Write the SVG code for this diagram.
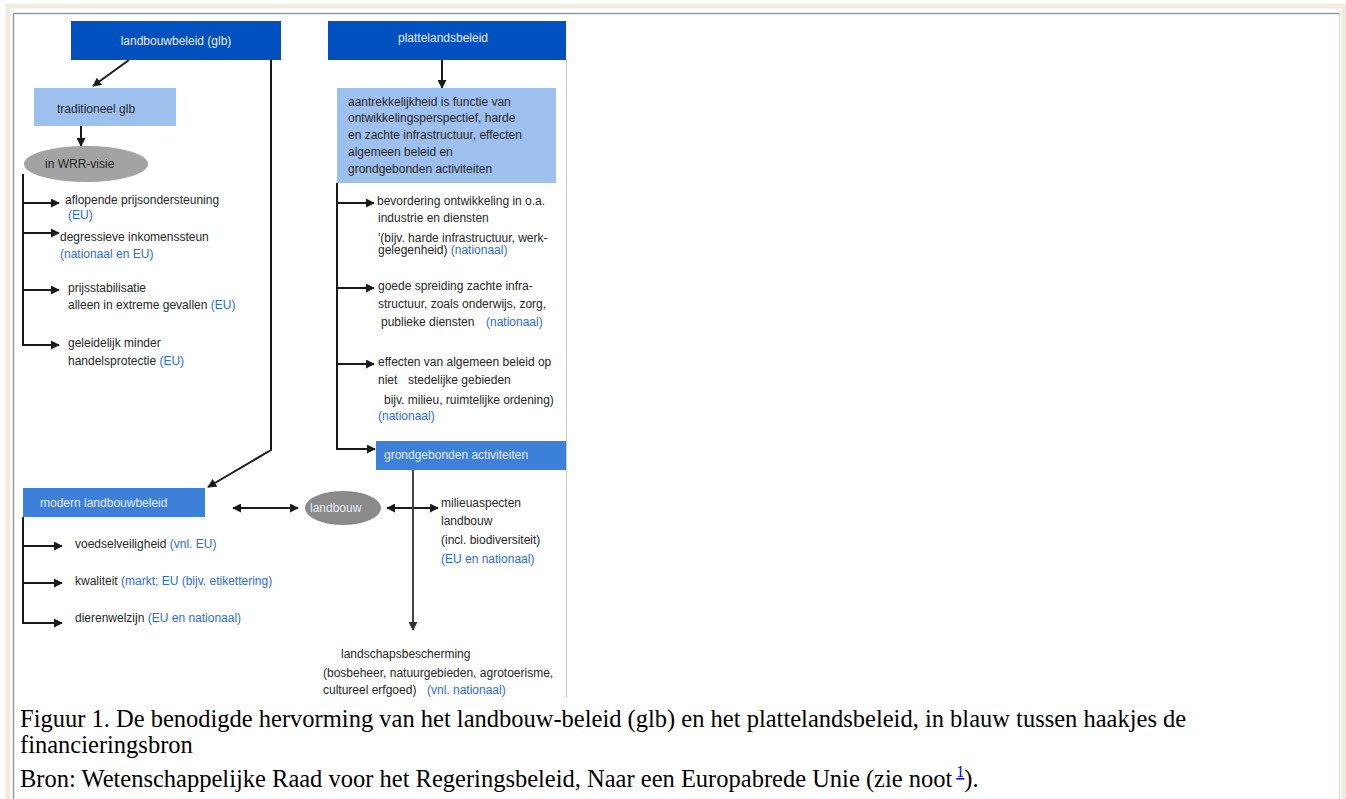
<svg xmlns="http://www.w3.org/2000/svg" width="1346" height="799" viewBox="0 0 1346 799">
<defs>
<marker id="ah" viewBox="0 0 10 10" refX="9" refY="5" markerWidth="4.5" markerHeight="4.5" orient="auto-start-reverse" markerUnits="strokeWidth">
<path d="M0,0 L10,5 L0,10 z" fill="#1a1a1a"/>
</marker>
<marker id="ahg" viewBox="0 0 10 10" refX="9" refY="5" markerWidth="4.5" markerHeight="4.5" orient="auto-start-reverse" markerUnits="strokeWidth">
<path d="M0,0 L10,5 L0,10 z" fill="#333"/>
</marker>
<style>
.t{font-family:"Liberation Sans",Arial,sans-serif;font-size:12px;fill:#262626}
.w{font-family:"Liberation Sans",Arial,sans-serif;font-size:12px;fill:#e4ecf8}
.b{fill:#2f6bd6}
.cap{font-family:"Liberation Serif","Times New Roman",serif;font-size:24.5px;fill:#000}
.ln{fill:none;stroke:#1a1a1a;stroke-width:2}
.dark{fill:#0050c0}
.light{fill:#9ec0ee}
.mid{fill:#3c80da}
</style>
</defs>
<rect width="1346" height="799" fill="#ffffff"/>
<!-- page frame -->
<rect x="8" y="6" width="1336" height="800" fill="none" stroke="#efebdd" stroke-width="5"/>
<line x1="13" y1="13.5" x2="1339" y2="13.5" stroke="#9a9a9a" stroke-width="1.5"/>
<line x1="13.5" y1="13" x2="13.5" y2="799" stroke="#9a9a9a" stroke-width="1.5"/>
<line x1="1339.5" y1="13" x2="1339.5" y2="799" stroke="#d8d8d8" stroke-width="1"/>
<!-- right edge of diagram image -->
<line x1="566.5" y1="60" x2="566.5" y2="697" stroke="#c8c8c8" stroke-width="1"/>

<g id="connectors">
<path class="ln" d="M129,60 L93,86" marker-end="url(#ah)"/>
<path class="ln" d="M271,60 L271,450 L208,487" marker-end="url(#ah)"/>
<path class="ln" d="M81,126 L81,146" marker-end="url(#ah)"/>
<path class="ln" d="M442,60 L442,88" marker-end="url(#ah)"/>
<path class="ln" d="M23,174 L23,345"/>
<path class="ln" d="M23,203 L59,203" marker-end="url(#ah)"/>
<path class="ln" d="M23,233 L59,233" marker-end="url(#ah)"/>
<path class="ln" d="M23,290 L59,290" marker-end="url(#ah)"/>
<path class="ln" d="M22,345 L59,345" marker-end="url(#ah)"/>
<path class="ln" d="M337,183 L337,449"/>
<path class="ln" d="M337,203 L374,203" marker-end="url(#ah)"/>
<path class="ln" d="M337,288 L374,288" marker-end="url(#ah)"/>
<path class="ln" d="M337,364 L374,364" marker-end="url(#ah)"/>
<path class="ln" d="M336,449 L375,449" marker-end="url(#ah)"/>
<path class="ln" d="M23,517 L23,623"/>
<path class="ln" d="M23,546 L62,546" marker-end="url(#ah)"/>
<path class="ln" d="M23,583 L62,583" marker-end="url(#ah)"/>
<path class="ln" d="M22,623 L62,623" marker-end="url(#ah)"/>
<path class="ln" d="M233,508 L298,508" marker-start="url(#ah)" marker-end="url(#ah)"/>
<path class="ln" d="M387,508 L438,508" marker-start="url(#ah)" marker-end="url(#ah)"/>
<path d="M413,470 L413,630" fill="none" stroke="#444" stroke-width="2" marker-end="url(#ahg)"/>
</g>

<g id="n-landbouwbeleid">
<rect class="dark" x="71" y="21" width="210" height="39"/>
<text class="w" x="176" y="45" text-anchor="middle">landbouwbeleid (glb)</text>
</g>
<g id="n-plattelandsbeleid">
<rect class="dark" x="328" y="21" width="238" height="39"/>
<text class="w" x="443" y="42" text-anchor="middle">plattelandsbeleid</text>
</g>
<g id="n-traditioneel">
<rect class="light" x="34" y="88" width="142" height="38"/>
<text class="t" x="57" y="113">traditioneel glb</text>
</g>
<g id="n-wrr">
<ellipse cx="86" cy="164" rx="62" ry="18" fill="#a3a3a3"/>
<text class="t" x="45" y="168">in WRR-visie</text>
</g>
<g id="n-wrr-items">
<text class="t" x="65" y="204">aflopende prijsondersteuning</text>
<text class="t b" x="68" y="219">(EU)</text>
<text class="t" x="60" y="241">degressieve inkomenssteun</text>
<text class="t b" x="60" y="258">(nationaal en EU)</text>
<text class="t" x="68" y="292">prijsstabilisatie</text>
<text class="t" x="68" y="309">alleen in extreme gevallen <tspan class="b">(EU)</tspan></text>
<text class="t" x="68" y="347">geleidelijk minder</text>
<text class="t" x="68" y="365">handelsprotectie <tspan class="b">(EU)</tspan></text>
</g>
<g id="n-aantrekkelijkheid">
<rect class="light" x="337" y="88" width="219" height="95"/>
<text class="t" x="348" y="106">aantrekkelijkheid is functie van</text>
<text class="t" x="348" y="122">ontwikkelingsperspectief, harde</text>
<text class="t" x="348" y="139">en zachte infrastructuur, effecten</text>
<text class="t" x="348" y="156">algemeen beleid en</text>
<text class="t" x="348" y="173">grondgebonden activiteiten</text>
</g>
<g id="n-platteland-items">
<text class="t" x="377" y="205">bevordering ontwikkeling in o.a.</text>
<text class="t" x="378" y="222">industrie en diensten</text>
<text class="t" x="378" y="242">'(bijv. harde infrastructuur, werk-</text>
<text class="t" x="378" y="254">gelegenheid) <tspan class="b">(nationaal)</tspan></text>
<text class="t" x="378" y="290">goede spreiding zachte infra-</text>
<text class="t" x="378" y="308">structuur, zoals onderwijs, zorg,</text>
<text class="t" x="381" y="326">publieke diensten <tspan class="b" x="486">(nationaal)</tspan></text>
<text class="t" x="378" y="366">effecten van algemeen beleid op</text>
<text class="t" x="378" y="384">niet <tspan x="408">stedelijke gebieden</tspan></text>
<text class="t" x="384" y="404">bijv. milieu, ruimtelijke ordening)</text>
<text class="t b" x="378" y="420">(nationaal)</text>
</g>
<g id="n-grondgebonden">
<rect class="mid" x="376" y="441" width="190" height="29"/>
<text class="w" x="384" y="459">grondgebonden activiteiten</text>
</g>
<g id="n-modern">
<rect class="mid" x="23" y="488" width="182" height="29"/>
<text class="w" x="40" y="507">modern landbouwbeleid</text>
</g>
<g id="n-modern-items">
<text class="t" x="75" y="548">voedselveiligheid <tspan class="b">(vnl. EU)</tspan></text>
<text class="t" x="75" y="585">kwaliteit <tspan class="b">(markt; EU (bijv. etikettering)</tspan></text>
<text class="t" x="75" y="622">dierenwelzijn <tspan class="b">(EU en nationaal)</tspan></text>
</g>
<g id="n-landbouw">
<ellipse cx="343" cy="508" rx="38" ry="17" fill="#8a8a8a"/>
<text class="w" x="310" y="512">landbouw</text>
</g>
<g id="n-milieu">
<text class="t" x="441" y="507">milieuaspecten</text>
<text class="t" x="441" y="525">landbouw</text>
<text class="t" x="441" y="544">(incl. biodiversiteit)</text>
<text class="t b" x="441" y="563">(EU en nationaal)</text>
</g>
<g id="n-landschap">
<text class="t" x="341" y="658">landschapsbescherming</text>
<text class="t" x="323" y="677">(bosbeheer, natuurgebieden, agrotoerisme,</text>
<text class="t" x="323" y="694">cultureel erfgoed) <tspan class="b" x="427">(vnl. nationaal)</tspan></text>
</g>

<g id="caption">
<text class="cap" x="20" y="727">Figuur 1. De benodigde hervorming van het landbouw-beleid (glb) en het plattelandsbeleid, in blauw tussen haakjes de</text>
<text class="cap" x="20" y="753">financieringsbron</text>
<text class="cap" x="20" y="787">Bron: Wetenschappelijke Raad voor het Regeringsbeleid, Naar een Europabrede Unie (zie noot<tspan dx="4" dy="-10" font-size="16" fill="#0000ee" text-decoration="underline">1</tspan><tspan dy="10">).</tspan></text>
</g>
</svg>
